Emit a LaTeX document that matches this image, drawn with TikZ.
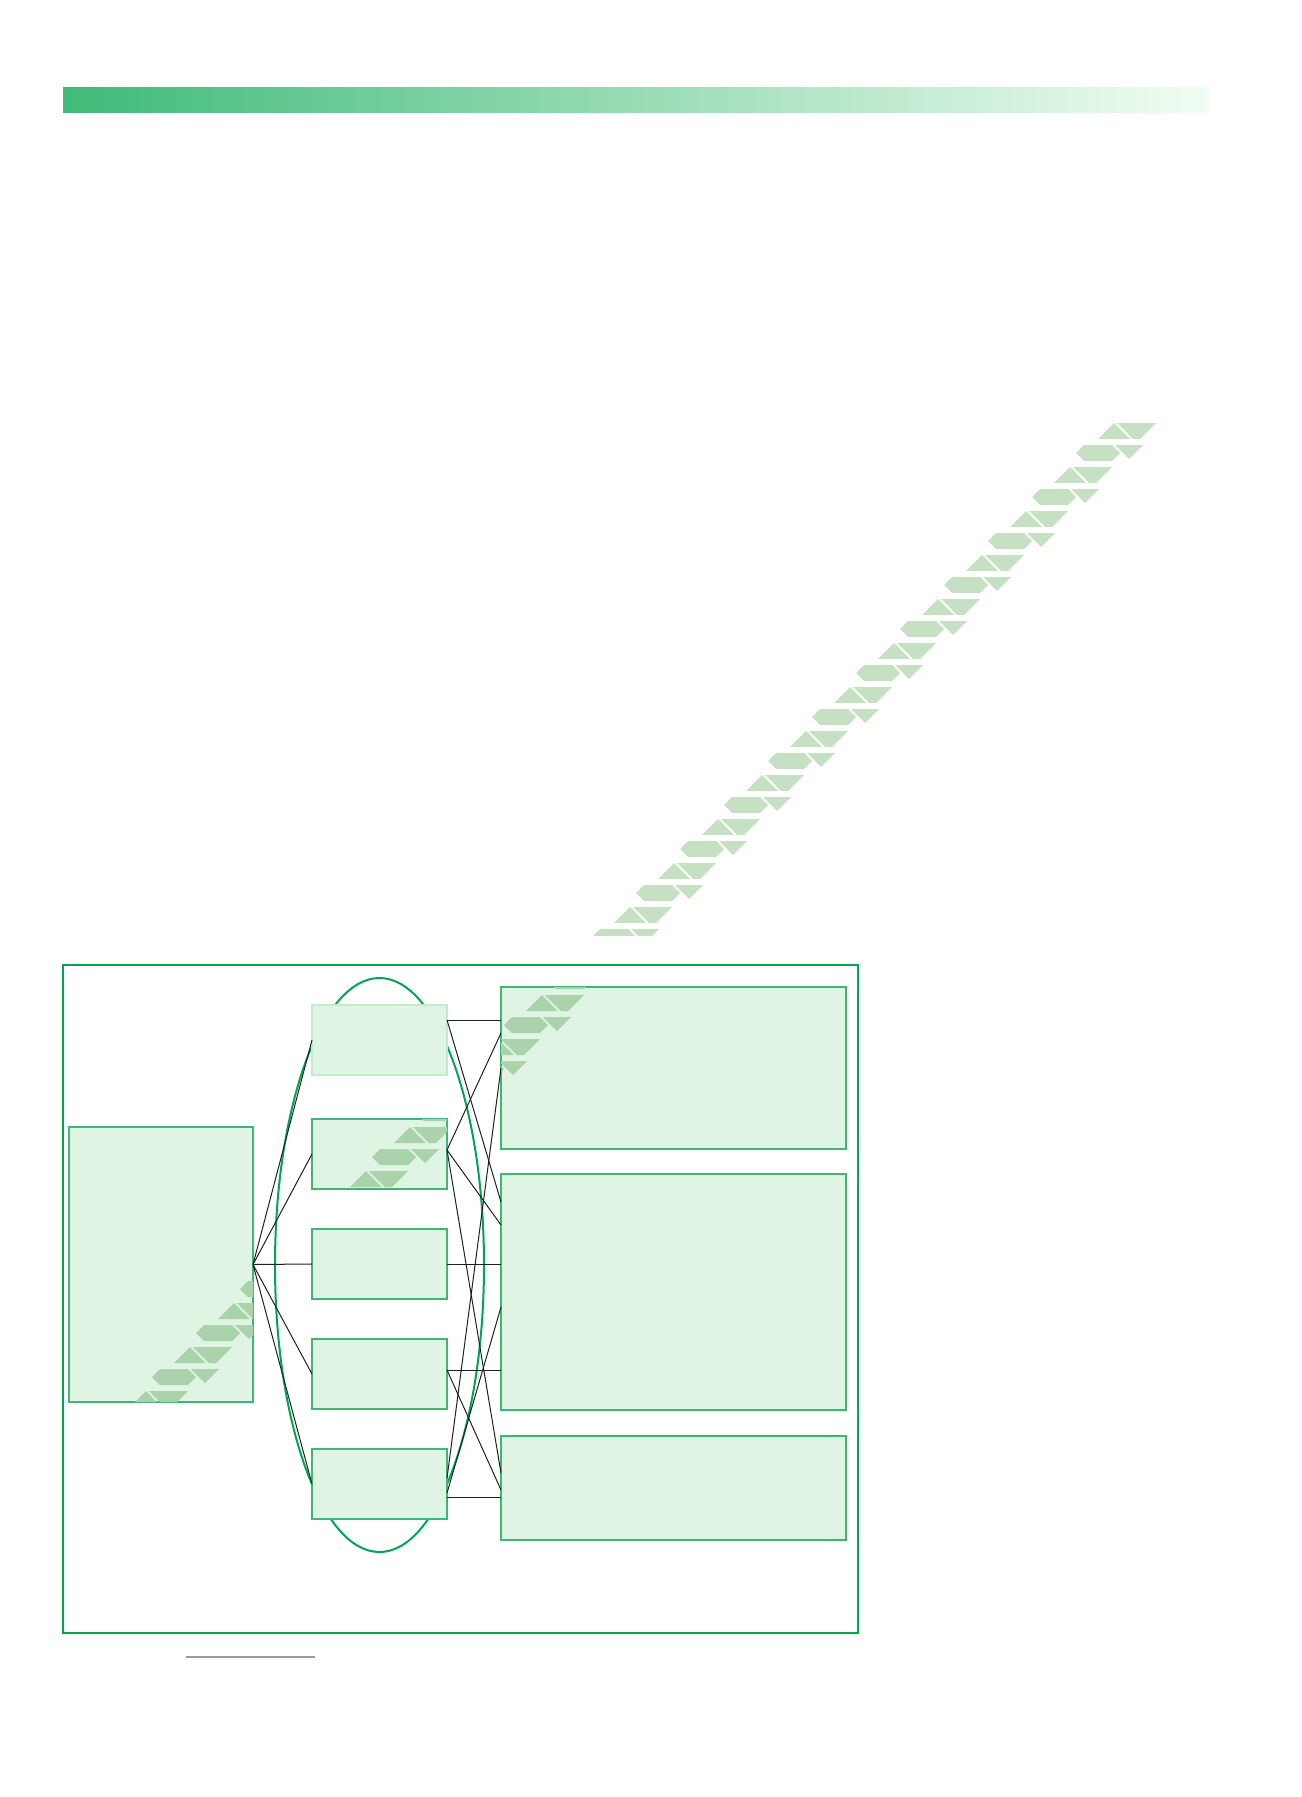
\documentclass[tikz,border=0pt]{standalone}
\usetikzlibrary{positioning,calc}

\definecolor{barstart}{HTML}{3FBB78}
\definecolor{barend}{HTML}{F2FDF3}
\definecolor{wmgreen}{HTML}{C6E0C3}
\definecolor{wmdark}{HTML}{AAD3AB}
\definecolor{framegreen}{HTML}{00A651}
\definecolor{boxline}{HTML}{3DB874}
\definecolor{boxfill}{HTML}{DFF4E3}
\definecolor{faintline}{HTML}{C4EBCF}
\definecolor{linkgray}{HTML}{231F20}
\definecolor{rulegray}{HTML}{9A9A9A}

% 水印的斜向图块行
\newcommand{\wmrows}[3]{%
  \foreach \i in {#1,...,#2}{
    \pgfmathsetmacro{\wx}{1098-22*\i}
    \pgfmathsetmacro{\wy}{423+22*\i}
    \ifodd\i
      \fill[#3] (\wx,\wy+8) -- (\wx+8,\wy) -- (\wx+36,\wy) -- (\wx+44,\wy+8) -- (\wx+36,\wy+16) -- (\wx+8,\wy+16) -- cycle;
      \fill[#3] (\wx+39,\wy) -- (\wx+67,\wy) -- (\wx+53,\wy+14) -- cycle;
    \else
      \fill[#3] (\wx,\wy+16) -- (\wx+16,\wy) -- (\wx+32,\wy+16) -- cycle;
      \fill[#3] (\wx+19,\wy) -- (\wx+58,\wy) -- (\wx+42,\wy+16) -- (\wx+35,\wy+16) -- cycle;
    \fi
  }}

\begin{document}
\begin{tikzpicture}[x=0.5pt, y=-0.5pt,
  box/.style={draw=boxline, fill=boxfill, line width=0.6pt, rectangle, inner sep=0pt, outer sep=0pt},
  link/.style={draw=linkgray, line width=0.5pt}]
\useasboundingbox (0,0) rectangle (1301,1797);

% 顶部色条
\shade[left color=barstart, right color=barend] (63,88) rectangle (1210,113);

% 水印（框外部分）
\begin{scope}
\clip (0,0) rectangle (1301,935);
\wmrows{0}{23}{wmgreen}
\end{scope}

% 外框
\draw[draw=framegreen, fill=white, line width=1pt] (63,965) rectangle (858,1633);

% 椭圆
\draw[draw=framegreen, line width=1pt] (379.5,1265) ellipse [x radius=52.25pt, y radius=143.5pt];

% 左侧节点
\node[box, minimum width=92pt, minimum height=137.5pt] (hub) at (161,1264.5) {};

% 中间一列
\node[box, draw=faintline, minimum width=67.5pt, minimum height=35pt] (mid1) at (379.5,1040) {};
\node[box, minimum width=67.5pt, minimum height=35pt, below=22pt of mid1] (mid2) {};
\node[box, minimum width=67.5pt, minimum height=35pt, below=20pt of mid2] (mid3) {};
\node[box, minimum width=67.5pt, minimum height=35pt, below=20pt of mid3] (mid4) {};
\node[box, minimum width=67.5pt, minimum height=35pt, below=20pt of mid4] (mid5) {};

% 右侧一列
\node[box, minimum width=172.5pt, minimum height=81pt] (out1) at (673.5,1068) {};
\node[box, minimum width=172.5pt, minimum height=118pt, below=12.5pt of out1] (out2) {};
\node[box, minimum width=172.5pt, minimum height=52pt, below=13pt of out2] (out3) {};

% 水印（节点内部分）
\begin{scope}
\clip (hub.south west) rectangle (hub.north east)
      (mid2.south west) rectangle (mid2.north east)
      (out1.south west) rectangle (out1.north east);
\wmrows{24}{44}{wmdark}
\end{scope}

% 左侧连线
\draw[link] (hub.east) -- (mid1.west);
\draw[link] (hub.east) -- (mid2.west);
\draw[link] (hub.east) -- (mid3.west);
\draw[link] (hub.east) -- (mid4.west);
\draw[link] (hub.east) -- (mid5.west);

% 右侧连线
\draw[link] ([yshift=10pt]mid1.east) -- ([yshift=24pt]out1.west);
\draw[link] ([yshift=10pt]mid1.east) -- ([yshift=45pt]out2.west);
\draw[link] ([yshift=2pt]mid2.east) -- ([yshift=17.5pt]out1.west);
\draw[link] ([yshift=2pt]mid2.east) -- ([yshift=33.5pt]out2.west);
\draw[link] ([yshift=2pt]mid2.east) -- ([yshift=7.5pt]out3.west);
\draw[link] (mid3.east) -- ([yshift=14pt]out2.west);
\draw[link] ([yshift=2pt]mid4.east) -- ([yshift=-39pt]out2.west);
\draw[link] ([yshift=2pt]mid4.east) -- ([yshift=-1pt]out3.west);
\draw[link] ([yshift=3pt]mid5.east) -- (out1.west);
\draw[link] ([yshift=-4.5pt]mid5.east) -- ([yshift=-7.5pt]out2.west);
\draw[link] ([yshift=-6.5pt]mid5.east) -- ([yshift=-4.5pt]out3.west);

% 底部短线
\draw[draw=rulegray, line width=1pt] (186,1657) -- (315,1657);
\end{tikzpicture}
\end{document}
